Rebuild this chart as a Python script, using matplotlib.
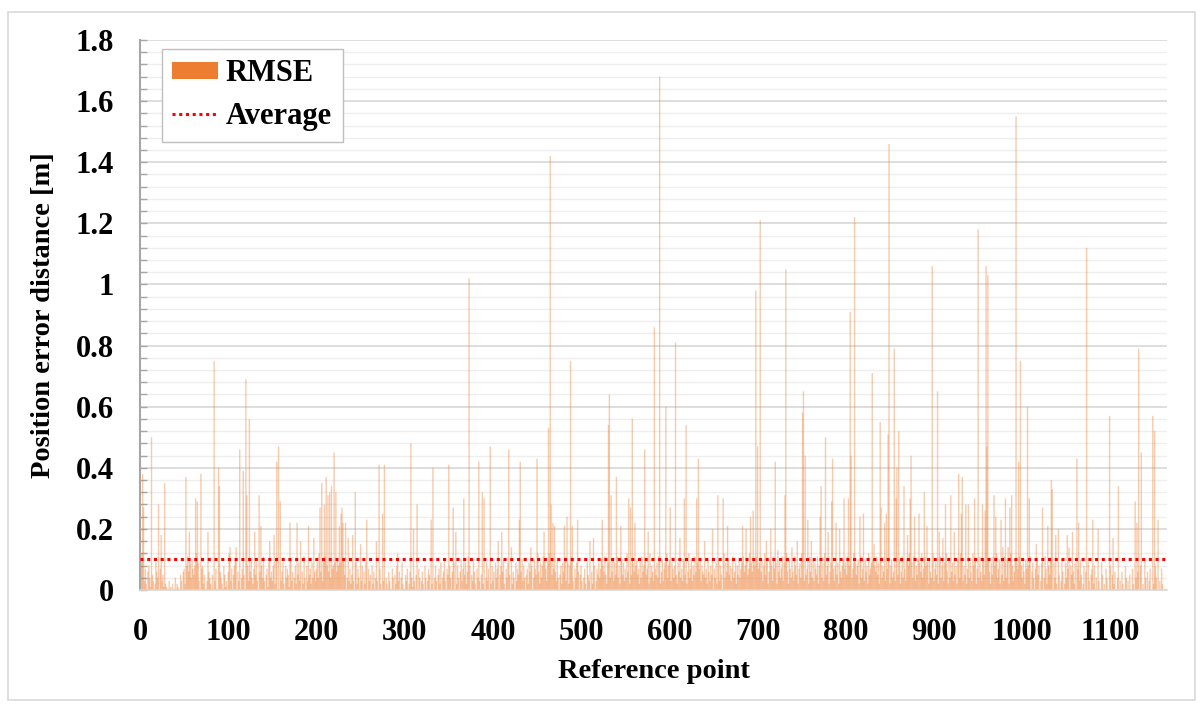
import numpy as np
import matplotlib
matplotlib.use('Agg')
import matplotlib.pyplot as plt
from matplotlib.patches import Patch, Rectangle
from matplotlib.lines import Line2D
from matplotlib.ticker import MultipleLocator, FuncFormatter

plt.rcParams['font.family'] = ['Liberation Serif', 'DejaVu Serif']
plt.rcParams['font.weight'] = 'bold'

# RMSE per reference point, background level in cm (40 points per row)
background_cm = [
    5, 9, 12, 0, 0, 3, 7, 2, 0, 6, 8, 4, 1, 0, 5, 3, 0, 2, 9, 6, 4, 0, 0, 7, 0, 3, 5, 1, 0, 2, 1, 0, 0, 3, 0, 1, 0, 2, 0, 0,
    4, 0, 2, 1, 0, 0, 5, 3, 0, 6, 7, 2, 0, 8, 11, 6, 3, 9, 4, 10, 7, 5, 8, 0, 12, 6, 9, 3, 0, 4, 7, 8, 2, 5, 0, 0, 3, 0, 6, 4,
    2, 0, 5, 0, 9, 3, 7, 0, 0, 0, 0, 6, 4, 2, 0, 8, 5, 1, 3, 0, 6, 12, 4, 3, 7, 0, 5, 8, 10, 2, 0, 6, 3, 9, 0, 4, 7, 2, 5, 0,
    0, 0, 8, 3, 0, 6, 10, 4, 2, 7, 0, 5, 9, 3, 0, 0, 6, 2, 8, 4, 11, 3, 0, 5, 7, 1, 9, 0, 4, 6, 3, 8, 0, 2, 10, 0, 0, 7, 0, 5,
    3, 6, 9, 2, 0, 8, 4, 7, 5, 1, 0, 10, 3, 6, 0, 4, 8, 2, 0, 5, 9, 3, 7, 0, 6, 2, 11, 4, 0, 8, 3, 0, 5, 7, 2, 9, 4, 0, 6, 3,
    7, 9, 4, 12, 8, 6, 10, 3, 9, 7, 11, 5, 8, 10, 6, 9, 4, 12, 7, 8, 5, 9, 11, 6, 10, 8, 4, 9, 7, 3, 6, 10, 5, 8, 0, 4, 9, 3, 7, 2,
    5, 8, 3, 0, 6, 9, 2, 7, 4, 0, 5, 3, 8, 0, 6, 2, 9, 4, 0, 7, 3, 5, 0, 8, 2, 6, 0, 4, 9, 3, 0, 5, 7, 2, 0, 6, 3, 8, 0, 4,
    2, 0, 6, 3, 0, 0, 7, 4, 0, 5, 2, 8, 0, 3, 6, 0, 4, 9, 2, 0, 0, 5, 3, 7, 0, 2, 6, 0, 4, 1, 8, 3, 0, 5, 2, 0, 7, 4, 0, 3,
    6, 2, 0, 8, 4, 0, 3, 7, 5, 0, 9, 2, 6, 0, 4, 8, 3, 0, 5, 7, 2, 9, 0, 4, 6, 10, 3, 0, 7, 5, 2, 8, 4, 0, 6, 3, 9, 0, 5, 2,
    8, 4, 0, 6, 10, 3, 7, 12, 5, 9, 2, 6, 11, 4, 8, 0, 5, 3, 9, 6, 2, 0, 7, 4, 8, 3, 0, 5, 10, 2, 6, 0, 4, 9, 3, 7, 0, 5, 2, 8,
    3, 6, 0, 9, 4, 7, 2, 0, 5, 8, 3, 6, 10, 2, 0, 7, 4, 9, 3, 5, 0, 8, 2, 6, 4, 0, 9, 3, 7, 5, 2, 0, 6, 10, 3, 8, 4, 0, 5, 7,
    2, 9, 6, 3, 8, 0, 4, 10, 7, 5, 3, 12, 6, 2, 9, 4, 8, 11, 5, 10, 7, 3, 9, 6, 12, 4, 8, 5, 2, 7, 0, 6, 3, 10, 4, 0, 5, 8, 2, 9,
    6, 4, 10, 3, 7, 9, 2, 8, 5, 11, 6, 3, 0, 7, 4, 9, 2, 6, 0, 5, 8, 3, 0, 4, 7, 2, 0, 9, 5, 3, 10, 0, 6, 2, 4, 8, 0, 3, 7, 5,
    9, 4, 7, 10, 3, 8, 6, 11, 5, 2, 9, 7, 12, 4, 8, 6, 10, 3, 9, 5, 7, 11, 4, 8, 2, 6, 10, 5, 9, 3, 7, 4, 12, 6, 8, 2, 10, 5, 3, 9,
    6, 3, 8, 10, 5, 7, 2, 9, 4, 11, 6, 8, 3, 10, 5, 7, 9, 2, 12, 4, 8, 6, 3, 10, 7, 5, 9, 4, 11, 8, 2, 6, 10, 3, 7, 9, 5, 12, 4, 8,
    10, 6, 3, 9, 7, 4, 8, 12, 5, 2, 9, 6, 11, 4, 7, 3, 10, 8, 5, 9, 2, 6, 12, 4, 7, 10, 3, 8, 5, 11, 6, 2, 9, 4, 7, 10, 3, 8, 6, 5,
    9, 4, 7, 2, 10, 6, 3, 8, 5, 11, 0, 7, 4, 9, 2, 6, 10, 3, 8, 5, 0, 7, 12, 4, 9, 6, 2, 10, 5, 8, 3, 7, 11, 4, 6, 9, 2, 8, 5, 10,
    4, 7, 9, 3, 11, 6, 8, 2, 10, 5, 7, 12, 4, 9, 6, 3, 10, 8, 5, 11, 2, 7, 9, 4, 6, 10, 3, 8, 12, 5, 7, 9, 2, 6, 10, 4, 8, 3, 11, 7,
    5, 9, 2, 8, 6, 10, 4, 7, 11, 3, 9, 5, 8, 12, 6, 2, 10, 7, 4, 9, 6, 3, 11, 8, 5, 10, 2, 7, 9, 4, 12, 6, 8, 3, 10, 5, 7, 9, 2, 11,
    6, 8, 4, 10, 3, 9, 7, 5, 11, 2, 8, 6, 10, 4, 9, 3, 12, 7, 5, 8, 10, 2, 6, 9, 4, 11, 7, 3, 8, 10, 5, 9, 2, 12, 6, 4, 8, 10, 3, 7,
    9, 5, 11, 2, 8, 6, 10, 4, 7, 12, 3, 9, 5, 8, 10, 2, 6, 11, 4, 7, 9, 3, 10, 6, 8, 2, 12, 5, 7, 9, 4, 10, 3, 8, 6, 11, 5, 9, 2, 7,
    10, 4, 8, 6, 12, 3, 9, 7, 5, 11, 2, 8, 10, 4, 6, 9, 3, 12, 7, 5, 8, 10, 2, 6, 11, 4, 9, 7, 3, 10, 5, 8, 12, 2, 6, 9, 4, 11, 7, 3,
    8, 5, 10, 2, 9, 6, 12, 4, 7, 3, 11, 8, 5, 9, 2, 10, 6, 4, 8, 12, 3, 7, 9, 5, 10, 2, 6, 11, 4, 8, 7, 3, 9, 5, 12, 6, 2, 10, 4, 8,
    6, 9, 3, 11, 5, 8, 2, 10, 7, 4, 12, 6, 9, 3, 8, 5, 11, 2, 7, 10, 4, 9, 6, 3, 12, 8, 5, 10, 2, 7, 9, 4, 11, 6, 3, 8, 10, 5, 2, 9,
    7, 4, 10, 6, 2, 9, 5, 11, 3, 8, 6, 12, 4, 7, 10, 2, 9, 5, 8, 3, 11, 6, 4, 10, 7, 2, 9, 12, 5, 8, 3, 6, 10, 4, 9, 7, 2, 11, 5, 8,
    4, 9, 6, 2, 10, 7, 3, 8, 5, 11, 0, 6, 9, 4, 0, 7, 2, 10, 5, 8, 0, 3, 9, 6, 0, 4, 11, 7, 2, 0, 8, 5, 10, 3, 6, 0, 9, 4, 7, 2,
    0, 8, 5, 0, 3, 10, 6, 0, 2, 9, 4, 0, 7, 3, 0, 8, 5, 0, 6, 2, 9, 0, 4, 7, 0, 3, 10, 5, 0, 2, 8, 0, 6, 4, 0, 9, 3, 0, 5, 7,
    0, 2, 8, 0, 4, 0, 6, 3, 0, 0, 9, 5, 0, 2, 0, 7, 4, 0, 0, 3, 8, 0, 5, 0, 2, 6, 0, 0, 4, 9, 0, 3, 0, 6, 2, 0, 0, 8, 4, 0,
    3, 0, 5, 0, 0, 7, 2, 0, 9, 4, 0, 6, 3, 0, 8, 5, 0, 2, 0, 10, 4, 0, 6, 0, 3, 7, 0, 0, 5, 2, 0, 8, 4, 0, 6, 0, 3, 0, 7, 2,
]

# reference points with larger errors (index, value in cm)
spike_idx = [
    3, 4, 13, 21, 24, 28, 52, 56, 63, 65, 69, 77, 84, 89, 90, 102, 109, 113, 117, 120,
    121, 124, 130, 135, 137, 147, 152, 155, 157, 159, 170, 178, 182, 191, 197, 204, 206, 209, 211, 213,
    215, 217, 220, 222, 226, 228, 229, 230, 233, 236, 241, 244, 250, 257, 268, 271, 275, 277, 292, 307,
    310, 314, 330, 332, 350, 355, 358, 367, 373, 384, 388, 390, 397, 406, 410, 418, 421, 430, 431, 443,
    450, 458, 463, 465, 466, 468, 470, 481, 484, 488, 490, 496, 510, 514, 524, 531, 532, 534, 540, 545,
    554, 556, 558, 561, 572, 576, 583, 589, 596, 601, 607, 612, 617, 619, 631, 633, 640, 649, 655, 661,
    666, 683, 687, 692, 695, 698, 700, 703, 710, 715, 720, 723, 731, 732, 739, 745, 751, 752, 754, 757,
    761, 771, 772, 777, 780, 784, 785, 789, 793, 798, 803, 805, 806, 810, 816, 820, 830, 832, 839, 840,
    844, 846, 848, 849, 855, 857, 858, 860, 866, 870, 873, 874, 878, 883, 889, 892, 898, 904, 906, 910,
    913, 919, 923, 928, 931, 932, 936, 939, 946, 950, 955, 958, 959, 960, 961, 968, 970, 976, 978, 981,
    984, 986, 988, 993, 996, 998, 1006, 1008, 1016, 1023, 1029, 1033, 1034, 1038, 1041, 1051, 1053, 1057, 1062, 1064,
    1073, 1080, 1086, 1099, 1103, 1109, 1128, 1130, 1132, 1135, 1148, 1150, 1154,
]
spike_cm = [
    38, 27, 50, 28, 18, 35, 37, 19, 30, 29, 38, 19, 75, 40, 34, 14, 14, 46, 39, 69,
    31, 56, 19, 31, 21, 16, 18, 42, 47, 29, 22, 22, 16, 21, 17, 27, 35, 28, 37, 31,
    32, 34, 45, 32, 21, 25, 27, 22, 22, 17, 18, 32, 15, 23, 16, 41, 25, 41, 12, 48,
    20, 28, 23, 40, 41, 27, 19, 30, 102, 42, 32, 30, 47, 16, 19, 46, 14, 23, 42, 14,
    43, 19, 53, 142, 28, 22, 21, 21, 24, 75, 21, 23, 16, 17, 23, 54, 64, 31, 37, 21,
    30, 27, 56, 22, 46, 19, 86, 168, 60, 27, 81, 17, 30, 54, 30, 43, 16, 20, 31, 30,
    21, 21, 20, 24, 26, 98, 47, 121, 16, 20, 42, 13, 31, 105, 14, 16, 58, 65, 44, 23,
    16, 24, 34, 50, 19, 29, 43, 22, 20, 30, 30, 91, 44, 122, 24, 25, 71, 15, 55, 27,
    22, 25, 51, 146, 79, 30, 40, 52, 34, 18, 30, 44, 24, 25, 32, 21, 106, 65, 19, 17,
    28, 31, 19, 38, 25, 37, 28, 28, 30, 118, 28, 26, 106, 47, 103, 31, 24, 23, 14, 30,
    14, 27, 31, 155, 42, 75, 60, 30, 15, 27, 21, 36, 33, 18, 20, 18, 14, 19, 43, 22,
    112, 23, 20, 57, 17, 34, 29, 22, 79, 45, 57, 52, 23,
]

average_m = 0.10

rmse_cm = np.array(background_cm, dtype=float)
rmse_cm[spike_idx] = spike_cm
rmse = rmse_cm / 100.0
points = np.arange(len(rmse))

fig = plt.figure(figsize=(12.03, 7.04), dpi=100)
ax = fig.add_axes([0.1164, 0.1619, 0.8536, 0.7813])

# light frame round the whole chart area
fig.patches.append(Rectangle((8 / 1203, 4 / 704), 1187 / 1203, 688 / 704,
                             transform=fig.transFigure, fill=False,
                             edgecolor='#d9d9d9', linewidth=1.2))

# bars are narrower than a pixel here, so draw them as soft thin strokes
ax.vlines(points, 0, rmse, colors='#ED7D31', linewidth=1.0, alpha=0.4,
          snap=False, zorder=2)
ax.axhline(average_m, color='#FF0000', linestyle=(0, (1, 1.2)), linewidth=2.2, zorder=3)

ax.set_xlim(0, 1164)
ax.set_ylim(0, 1.8)
ax.xaxis.set_major_locator(MultipleLocator(100))
ax.yaxis.set_major_locator(MultipleLocator(0.2))
ax.yaxis.set_minor_locator(MultipleLocator(0.04))
ax.yaxis.set_major_formatter(FuncFormatter(lambda v, p: f'{v:g}'))

ax.grid(axis='y', which='major', color='#d4d4d4', linewidth=1.1, zorder=0)
ax.grid(axis='y', which='minor', color='#eeeeee', linewidth=1.0, zorder=0)
ax.set_axisbelow(True)

for side in ['top', 'right']:
    ax.spines[side].set_visible(False)
ax.spines['left'].set_color('#a6a6a6')
ax.spines['left'].set_linewidth(1.5)
ax.spines['bottom'].set_color('#d9d9d9')
ax.spines['bottom'].set_linewidth(1.2)

ax.tick_params(axis='y', which='both', direction='in', length=5, width=1, color='#a6a6a6',
               labelsize=22, pad=19)
ax.tick_params(axis='x', which='both', length=0, labelsize=22, pad=20)

ax.set_xlabel('Reference point', fontsize=20.5, fontweight='bold', labelpad=9)
ax.set_ylabel('Position error distance [m]', fontsize=20.5, fontweight='bold', labelpad=14)

handles = [Patch(facecolor='#ED7D31', edgecolor='none', label='RMSE'),
           Line2D([0], [0], color='#FF0000', linestyle=(0, (1, 1.2)), linewidth=2.2, label='Average')]
leg = ax.legend(handles=handles, loc='upper left', bbox_to_anchor=(0.021, 0.984),
                borderaxespad=0, prop={'size': 22, 'weight': 'bold'}, fancybox=False,
                framealpha=1, edgecolor='#bfbfbf', handlelength=1.5, handleheight=0.5,
                borderpad=0.35, labelspacing=0.45, handletextpad=0.25)
leg.get_frame().set_linewidth(1.0)

plt.savefig('out.png', dpi=100)
